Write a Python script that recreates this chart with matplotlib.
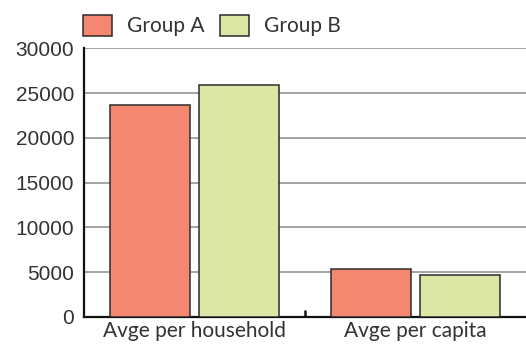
import matplotlib
matplotlib.use("Agg")
import matplotlib.pyplot as plt
import numpy as np

categories = ["Avge per household", "Avge per capita"]
groups = ["Group A", "Group B"]
group_a = [23650, 5350]
group_b = [25850, 4680]
y_ticks = [0, 5000, 10000, 15000, 20000, 25000, 30000]

colors = ["#F4876F", "#DDE7A5"]
edge = "#2b2b2b"
text_color = "#333333"

fig = plt.figure(figsize=(5.26, 3.49), dpi=100)
ax = fig.add_axes([84 / 526, 32 / 349, 1 - 84 / 526, (317 - 48.3) / 349])

x = np.arange(len(categories))
width = 0.362
offset = 0.2014
for vals, off, col, name in zip([group_a, group_b], [-offset, offset], colors, groups):
    ax.bar(x + off, vals, width, color=col, edgecolor=edge, linewidth=1.1,
           label=name, zorder=3)

ax.set_xlim(-0.5, len(categories) - 0.5)
ax.set_ylim(0, 30000)
ax.set_yticks(y_ticks)
ax.set_yticklabels([str(v) for v in y_ticks], fontfamily="Liberation Sans",
                   fontsize=15, color=text_color)
ax.yaxis.grid(True, color="#8a8a8a", linewidth=1.1, zorder=0)
ax.set_axisbelow(True)
ax.tick_params(axis="y", length=0, pad=7)

ax.set_xticks(x)
ax.set_xticklabels(categories, fontfamily="Lato", fontsize=15, color=text_color)
ax.tick_params(axis="x", which="major", length=0, pad=3)
ax.set_xticks([0.5], minor=True)
ax.tick_params(axis="x", which="minor", direction="in", length=5, width=1.8,
               color="#111111")

for side in ["top", "right"]:
    ax.spines[side].set_visible(False)
for side in ["left", "bottom"]:
    ax.spines[side].set_linewidth(1.6)
    ax.spines[side].set_color("#111111")

leg = ax.legend(loc="lower left", bbox_to_anchor=(-0.002, 1.045), ncol=2,
                frameon=False, borderpad=0, borderaxespad=0,
                handlelength=1.39, handleheight=1.2, handletextpad=0.72,
                columnspacing=0.72, prop={"family": "Lato", "size": 15})
for t in leg.get_texts():
    t.set_color(text_color)

fig.savefig("out.png", dpi=100)
